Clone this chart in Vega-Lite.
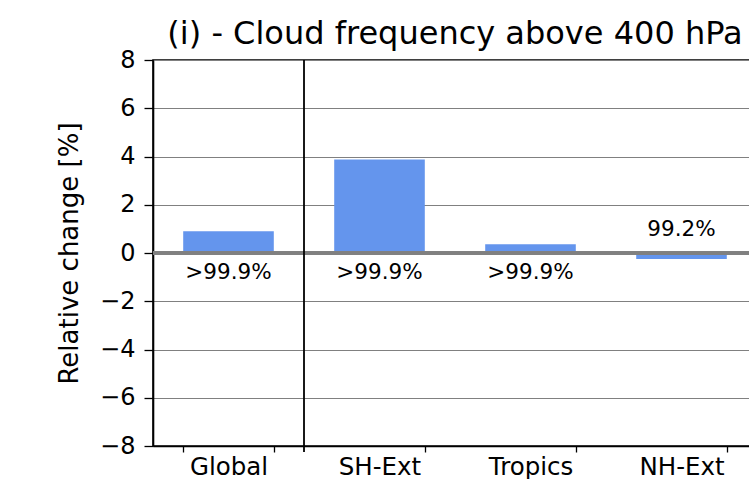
{
  "$schema": "https://vega.github.io/schema/vega-lite/v6.json",
  "width": 604,
  "height": 386,
  "autosize": {"type": "none"},
  "padding": {"left": 153, "top": 60, "right": 0, "bottom": 33},
  "background": "white",
  "title": {
    "text": "(i) - Cloud frequency above 400 hPa",
    "font": "DejaVu Sans",
    "fontSize": 32,
    "fontWeight": "normal",
    "color": "black",
    "anchor": "middle",
    "offset": -3
  },
  "config": {
    "view": {"stroke": "black", "strokeWidth": 1.6},
    "axis": {
      "labelFont": "DejaVu Sans",
      "titleFont": "DejaVu Sans",
      "labelColor": "black",
      "titleColor": "black",
      "tickColor": "black",
      "domainColor": "black",
      "domainWidth": 1.6,
      "tickWidth": 1.3,
      "titleFontWeight": "normal"
    }
  },
  "datasets": {
    "bars": [
      {"region": "Global", "value": 0.9, "sig": ">99.9%"},
      {"region": "SH-Ext", "value": 3.88, "sig": ">99.9%"},
      {"region": "Tropics", "value": 0.36, "sig": ">99.9%"},
      {"region": "NH-Ext", "value": -0.25, "sig": "99.2%"}
    ],
    "divider": [{"region": "SH-Ext"}]
  },
  "data": {"name": "bars"},
  "encoding": {
    "x": {
      "field": "region",
      "type": "nominal",
      "sort": ["Global", "SH-Ext", "Tropics", "NH-Ext"],
      "scale": {"paddingInner": 0.4, "paddingOuter": 0.2},
      "axis": {
        "title": null,
        "labelAngle": 0,
        "labelFontSize": 24.5,
        "tickBand": "extent",
        "tickSize": 6,
        "labelPadding": 3,
        "grid": false
      }
    }
  },
  "layer": [
    {
      "mark": {"type": "bar", "color": "#6495ED"},
      "encoding": {
        "y": {
          "field": "value",
          "type": "quantitative",
          "scale": {"domain": [-8, 8], "nice": false},
          "axis": {
            "title": "Relative change [%]",
            "titleFontSize": 26,
            "titlePadding": 17,
            "labelFontSize": 24,
            "values": [-8, -6, -4, -2, 0, 2, 4, 6, 8],
            "tickSize": 9,
            "labelPadding": 9,
            "grid": true,
            "gridColor": "#808080",
            "gridWidth": 1
          }
        }
      }
    },
    {
      "mark": {"type": "rule", "color": "#808080", "strokeWidth": 3.5},
      "encoding": {"y": {"datum": 0, "type": "quantitative"}, "x": {"value": 0}, "x2": {"value": 604}}
    },
    {
      "transform": [{"filter": "datum.value > 0"}],
      "mark": {"type": "text", "font": "DejaVu Sans", "fontSize": 21.5, "color": "black", "baseline": "middle", "dy": 20},
      "encoding": {"y": {"datum": 0, "type": "quantitative"}, "text": {"field": "sig"}}
    },
    {
      "transform": [{"filter": "datum.value < 0"}],
      "mark": {"type": "text", "font": "DejaVu Sans", "fontSize": 21.5, "color": "black", "baseline": "middle", "dy": -23},
      "encoding": {"y": {"datum": 0, "type": "quantitative"}, "text": {"field": "sig"}}
    },
    {
      "data": {"name": "divider"},
      "mark": {"type": "rule", "color": "black", "strokeWidth": 1.8},
      "encoding": {
        "x": {"field": "region", "type": "nominal", "bandPosition": -0.3333},
        "y": {"value": 0},
        "y2": {"value": 392}
      }
    }
  ]
}
